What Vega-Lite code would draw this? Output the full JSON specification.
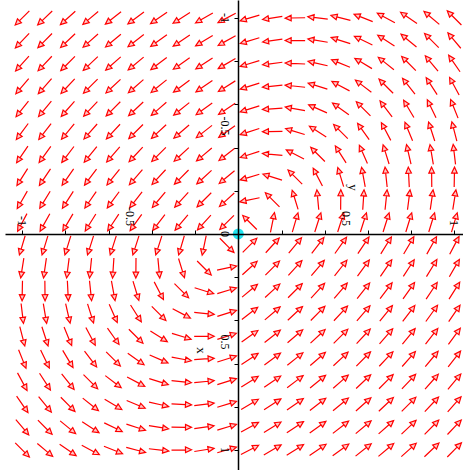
{
"$schema":"https://vega.github.io/schema/vega-lite/v6.json",
"width":458,"height":470,"autosize":"none",
"padding":{"left":5,"top":0,"right":0,"bottom":0},
"background":"white",
"config":{"view":{"stroke":null}},
"datasets":{"field":[
{"h":0.053,"v":0.053,"a":-45},{"h":0.158,"v":0.053,"a":-47.7},{"h":0.263,"v":0.053,"a":-50.2},{"h":0.368,"v":0.053,"a":-52.4},{"h":0.474,"v":0.053,"a":-54.5},{"h":0.579,"v":0.053,"a":-56.3},{"h":0.684,"v":0.053,"a":-58},{"h":0.789,"v":0.053,"a":-59.5},{"h":0.895,"v":0.053,"a":-60.9},{"h":1,"v":0.053,"a":-62.2},
{"h":0.053,"v":0.158,"a":-42.3},{"h":0.158,"v":0.158,"a":-45},{"h":0.263,"v":0.158,"a":-47.5},{"h":0.368,"v":0.158,"a":-49.8},{"h":0.474,"v":0.158,"a":-51.8},{"h":0.579,"v":0.158,"a":-53.7},{"h":0.684,"v":0.158,"a":-55.5},{"h":0.789,"v":0.158,"a":-57.1},{"h":0.895,"v":0.158,"a":-58.6},{"h":1,"v":0.158,"a":-59.9},
{"h":0.053,"v":0.263,"a":-39.8},{"h":0.158,"v":0.263,"a":-42.5},{"h":0.263,"v":0.263,"a":-45},{"h":0.368,"v":0.263,"a":-47.3},{"h":0.474,"v":0.263,"a":-49.4},{"h":0.579,"v":0.263,"a":-51.3},{"h":0.684,"v":0.263,"a":-53.1},{"h":0.789,"v":0.263,"a":-54.8},{"h":0.895,"v":0.263,"a":-56.3},{"h":1,"v":0.263,"a":-57.7},
{"h":0.053,"v":0.368,"a":-37.6},{"h":0.158,"v":0.368,"a":-40.2},{"h":0.263,"v":0.368,"a":-42.7},{"h":0.368,"v":0.368,"a":-45},{"h":0.474,"v":0.368,"a":-47.1},{"h":0.579,"v":0.368,"a":-49.1},{"h":0.684,"v":0.368,"a":-50.9},{"h":0.789,"v":0.368,"a":-52.6},{"h":0.895,"v":0.368,"a":-54.2},{"h":1,"v":0.368,"a":-55.6},
{"h":0.053,"v":0.474,"a":-35.5},{"h":0.158,"v":0.474,"a":-38.2},{"h":0.263,"v":0.474,"a":-40.6},{"h":0.368,"v":0.474,"a":-42.9},{"h":0.474,"v":0.474,"a":-45},{"h":0.579,"v":0.474,"a":-47},{"h":0.684,"v":0.474,"a":-48.8},{"h":0.789,"v":0.474,"a":-50.5},{"h":0.895,"v":0.474,"a":-52.1},{"h":1,"v":0.474,"a":-53.6},
{"h":0.053,"v":0.579,"a":-33.7},{"h":0.158,"v":0.579,"a":-36.3},{"h":0.263,"v":0.579,"a":-38.7},{"h":0.368,"v":0.579,"a":-40.9},{"h":0.474,"v":0.579,"a":-43},{"h":0.579,"v":0.579,"a":-45},{"h":0.684,"v":0.579,"a":-46.8},{"h":0.789,"v":0.579,"a":-48.6},{"h":0.895,"v":0.579,"a":-50.2},{"h":1,"v":0.579,"a":-51.7},
{"h":0.053,"v":0.684,"a":-32},{"h":0.158,"v":0.684,"a":-34.5},{"h":0.263,"v":0.684,"a":-36.9},{"h":0.368,"v":0.684,"a":-39.1},{"h":0.474,"v":0.684,"a":-41.2},{"h":0.579,"v":0.684,"a":-43.2},{"h":0.684,"v":0.684,"a":-45},{"h":0.789,"v":0.684,"a":-46.7},{"h":0.895,"v":0.684,"a":-48.4},{"h":1,"v":0.684,"a":-49.9},
{"h":0.053,"v":0.789,"a":-30.5},{"h":0.158,"v":0.789,"a":-32.9},{"h":0.263,"v":0.789,"a":-35.2},{"h":0.368,"v":0.789,"a":-37.4},{"h":0.474,"v":0.789,"a":-39.5},{"h":0.579,"v":0.789,"a":-41.4},{"h":0.684,"v":0.789,"a":-43.3},{"h":0.789,"v":0.789,"a":-45},{"h":0.895,"v":0.789,"a":-46.6},{"h":1,"v":0.789,"a":-48.2},
{"h":0.053,"v":0.895,"a":-29.1},{"h":0.158,"v":0.895,"a":-31.4},{"h":0.263,"v":0.895,"a":-33.7},{"h":0.368,"v":0.895,"a":-35.8},{"h":0.474,"v":0.895,"a":-37.9},{"h":0.579,"v":0.895,"a":-39.8},{"h":0.684,"v":0.895,"a":-41.6},{"h":0.789,"v":0.895,"a":-43.4},{"h":0.895,"v":0.895,"a":-45},{"h":1,"v":0.895,"a":-46.5},
{"h":0.053,"v":1,"a":-27.8},{"h":0.158,"v":1,"a":-30.1},{"h":0.263,"v":1,"a":-32.3},{"h":0.368,"v":1,"a":-34.4},{"h":0.474,"v":1,"a":-36.4},{"h":0.579,"v":1,"a":-38.3},{"h":0.684,"v":1,"a":-40.1},{"h":0.789,"v":1,"a":-41.8},{"h":0.895,"v":1,"a":-43.5},{"h":1,"v":1,"a":-45},

{"h":-0.053,"v":-0.053,"a":135},{"h":-0.158,"v":-0.053,"a":132.3},{"h":-0.263,"v":-0.053,"a":129.8},{"h":-0.368,"v":-0.053,"a":127.6},{"h":-0.474,"v":-0.053,"a":125.5},{"h":-0.579,"v":-0.053,"a":123.7},{"h":-0.684,"v":-0.053,"a":122},{"h":-0.789,"v":-0.053,"a":120.5},{"h":-0.895,"v":-0.053,"a":119.1},{"h":-1,"v":-0.053,"a":117.8},
{"h":-0.053,"v":-0.158,"a":137.7},{"h":-0.158,"v":-0.158,"a":135},{"h":-0.263,"v":-0.158,"a":132.5},{"h":-0.368,"v":-0.158,"a":130.2},{"h":-0.474,"v":-0.158,"a":128.2},{"h":-0.579,"v":-0.158,"a":126.3},{"h":-0.684,"v":-0.158,"a":124.5},{"h":-0.789,"v":-0.158,"a":122.9},{"h":-0.895,"v":-0.158,"a":121.4},{"h":-1,"v":-0.158,"a":120.1},
{"h":-0.053,"v":-0.263,"a":140.2},{"h":-0.158,"v":-0.263,"a":137.5},{"h":-0.263,"v":-0.263,"a":135},{"h":-0.368,"v":-0.263,"a":132.7},{"h":-0.474,"v":-0.263,"a":130.6},{"h":-0.579,"v":-0.263,"a":128.7},{"h":-0.684,"v":-0.263,"a":126.9},{"h":-0.789,"v":-0.263,"a":125.2},{"h":-0.895,"v":-0.263,"a":123.7},{"h":-1,"v":-0.263,"a":122.3},
{"h":-0.053,"v":-0.368,"a":142.4},{"h":-0.158,"v":-0.368,"a":139.8},{"h":-0.263,"v":-0.368,"a":137.3},{"h":-0.368,"v":-0.368,"a":135},{"h":-0.474,"v":-0.368,"a":132.9},{"h":-0.579,"v":-0.368,"a":130.9},{"h":-0.684,"v":-0.368,"a":129.1},{"h":-0.789,"v":-0.368,"a":127.4},{"h":-0.895,"v":-0.368,"a":125.8},{"h":-1,"v":-0.368,"a":124.4},
{"h":-0.053,"v":-0.474,"a":144.5},{"h":-0.158,"v":-0.474,"a":141.8},{"h":-0.263,"v":-0.474,"a":139.4},{"h":-0.368,"v":-0.474,"a":137.1},{"h":-0.474,"v":-0.474,"a":135},{"h":-0.579,"v":-0.474,"a":133},{"h":-0.684,"v":-0.474,"a":131.2},{"h":-0.789,"v":-0.474,"a":129.5},{"h":-0.895,"v":-0.474,"a":127.9},{"h":-1,"v":-0.474,"a":126.4},
{"h":-0.053,"v":-0.579,"a":146.3},{"h":-0.158,"v":-0.579,"a":143.7},{"h":-0.263,"v":-0.579,"a":141.3},{"h":-0.368,"v":-0.579,"a":139.1},{"h":-0.474,"v":-0.579,"a":137},{"h":-0.579,"v":-0.579,"a":135},{"h":-0.684,"v":-0.579,"a":133.2},{"h":-0.789,"v":-0.579,"a":131.4},{"h":-0.895,"v":-0.579,"a":129.8},{"h":-1,"v":-0.579,"a":128.3},
{"h":-0.053,"v":-0.684,"a":148},{"h":-0.158,"v":-0.684,"a":145.5},{"h":-0.263,"v":-0.684,"a":143.1},{"h":-0.368,"v":-0.684,"a":140.9},{"h":-0.474,"v":-0.684,"a":138.8},{"h":-0.579,"v":-0.684,"a":136.8},{"h":-0.684,"v":-0.684,"a":135},{"h":-0.789,"v":-0.684,"a":133.3},{"h":-0.895,"v":-0.684,"a":131.6},{"h":-1,"v":-0.684,"a":130.1},
{"h":-0.053,"v":-0.789,"a":149.5},{"h":-0.158,"v":-0.789,"a":147.1},{"h":-0.263,"v":-0.789,"a":144.8},{"h":-0.368,"v":-0.789,"a":142.6},{"h":-0.474,"v":-0.789,"a":140.5},{"h":-0.579,"v":-0.789,"a":138.6},{"h":-0.684,"v":-0.789,"a":136.7},{"h":-0.789,"v":-0.789,"a":135},{"h":-0.895,"v":-0.789,"a":133.4},{"h":-1,"v":-0.789,"a":131.8},
{"h":-0.053,"v":-0.895,"a":150.9},{"h":-0.158,"v":-0.895,"a":148.6},{"h":-0.263,"v":-0.895,"a":146.3},{"h":-0.368,"v":-0.895,"a":144.2},{"h":-0.474,"v":-0.895,"a":142.1},{"h":-0.579,"v":-0.895,"a":140.2},{"h":-0.684,"v":-0.895,"a":138.4},{"h":-0.789,"v":-0.895,"a":136.6},{"h":-0.895,"v":-0.895,"a":135},{"h":-1,"v":-0.895,"a":133.5},
{"h":-0.053,"v":-1,"a":152.2},{"h":-0.158,"v":-1,"a":149.9},{"h":-0.263,"v":-1,"a":147.7},{"h":-0.368,"v":-1,"a":145.6},{"h":-0.474,"v":-1,"a":143.6},{"h":-0.579,"v":-1,"a":141.7},{"h":-0.684,"v":-1,"a":139.9},{"h":-0.789,"v":-1,"a":138.2},{"h":-0.895,"v":-1,"a":136.5},{"h":-1,"v":-1,"a":135},

{"h":0.053,"v":-0.053,"a":-135},{"h":0.158,"v":-0.053,"a":-78.4},{"h":0.263,"v":-0.053,"a":-73.6},{"h":0.368,"v":-0.053,"a":-72.3},{"h":0.474,"v":-0.053,"a":-72.3},{"h":0.579,"v":-0.053,"a":-72.4},{"h":0.684,"v":-0.053,"a":-72.5},{"h":0.789,"v":-0.053,"a":-72.9},{"h":0.895,"v":-0.053,"a":-73.1},{"h":1,"v":-0.053,"a":-73.4},
{"h":0.053,"v":-0.158,"a":-191.6},{"h":0.158,"v":-0.158,"a":-135},{"h":0.263,"v":-0.158,"a":-107.1},{"h":0.368,"v":-0.158,"a":-95.4},{"h":0.474,"v":-0.158,"a":-89.5},{"h":0.579,"v":-0.158,"a":-86.2},{"h":0.684,"v":-0.158,"a":-84.1},{"h":0.789,"v":-0.158,"a":-82.7},{"h":0.895,"v":-0.158,"a":-81.8},{"h":1,"v":-0.158,"a":-81},
{"h":0.053,"v":-0.263,"a":-196.4},{"h":0.158,"v":-0.263,"a":-162.9},{"h":0.263,"v":-0.263,"a":-135},{"h":0.368,"v":-0.263,"a":-117.5},{"h":0.474,"v":-0.263,"a":-107},{"h":0.579,"v":-0.263,"a":-100.4},{"h":0.684,"v":-0.263,"a":-96},{"h":0.789,"v":-0.263,"a":-92.9},{"h":0.895,"v":-0.263,"a":-90.6},{"h":1,"v":-0.263,"a":-88.9},
{"h":0.053,"v":-0.368,"a":-197.7},{"h":0.158,"v":-0.368,"a":-174.6},{"h":0.263,"v":-0.368,"a":-152.5},{"h":0.368,"v":-0.368,"a":-135},{"h":0.474,"v":-0.368,"a":-122.5},{"h":0.579,"v":-0.368,"a":-113.7},{"h":0.684,"v":-0.368,"a":-107.4},{"h":0.789,"v":-0.368,"a":-102.9},{"h":0.895,"v":-0.368,"a":-99.5},{"h":1,"v":-0.368,"a":-96.8},
{"h":0.053,"v":-0.474,"a":-197.7},{"h":0.158,"v":-0.474,"a":-180.5},{"h":0.263,"v":-0.474,"a":-163},{"h":0.368,"v":-0.474,"a":-147.5},{"h":0.474,"v":-0.474,"a":-135},{"h":0.579,"v":-0.474,"a":-125.3},{"h":0.684,"v":-0.474,"a":-118},{"h":0.789,"v":-0.474,"a":-112.3},{"h":0.895,"v":-0.474,"a":-107.9},{"h":1,"v":-0.474,"a":-104.4},
{"h":0.053,"v":-0.579,"a":-197.6},{"h":0.158,"v":-0.579,"a":-183.8},{"h":0.263,"v":-0.579,"a":-169.6},{"h":0.368,"v":-0.579,"a":-156.3},{"h":0.474,"v":-0.579,"a":-144.7},{"h":0.579,"v":-0.579,"a":-135},{"h":0.684,"v":-0.579,"a":-127.2},{"h":0.789,"v":-0.579,"a":-120.9},{"h":0.895,"v":-0.579,"a":-115.8},{"h":1,"v":-0.579,"a":-111.7},
{"h":0.053,"v":-0.684,"a":-197.5},{"h":0.158,"v":-0.684,"a":-185.9},{"h":0.263,"v":-0.684,"a":-174},{"h":0.368,"v":-0.684,"a":-162.6},{"h":0.474,"v":-0.684,"a":-152},{"h":0.579,"v":-0.684,"a":-142.8},{"h":0.684,"v":-0.684,"a":-135},{"h":0.789,"v":-0.684,"a":-128.4},{"h":0.895,"v":-0.684,"a":-123},{"h":1,"v":-0.684,"a":-118.4},
{"h":0.053,"v":-0.789,"a":-197.1},{"h":0.158,"v":-0.789,"a":-187.3},{"h":0.263,"v":-0.789,"a":-177.1},{"h":0.368,"v":-0.789,"a":-167.1},{"h":0.474,"v":-0.789,"a":-157.7},{"h":0.579,"v":-0.789,"a":-149.1},{"h":0.684,"v":-0.789,"a":-141.6},{"h":0.789,"v":-0.789,"a":-135},{"h":0.895,"v":-0.789,"a":-129.4},{"h":1,"v":-0.789,"a":-124.6},
{"h":0.053,"v":-0.895,"a":-196.9},{"h":0.158,"v":-0.895,"a":-188.2},{"h":0.263,"v":-0.895,"a":-179.4},{"h":0.368,"v":-0.895,"a":-170.5},{"h":0.474,"v":-0.895,"a":-162.1},{"h":0.579,"v":-0.895,"a":-154.2},{"h":0.684,"v":-0.895,"a":-147},{"h":0.789,"v":-0.895,"a":-140.6},{"h":0.895,"v":-0.895,"a":-135},{"h":1,"v":-0.895,"a":-130.1},
{"h":0.053,"v":-1,"a":-196.6},{"h":0.158,"v":-1,"a":-189},{"h":0.263,"v":-1,"a":-181.1},{"h":0.368,"v":-1,"a":-173.2},{"h":0.474,"v":-1,"a":-165.6},{"h":0.579,"v":-1,"a":-158.3},{"h":0.684,"v":-1,"a":-151.6},{"h":0.789,"v":-1,"a":-145.4},{"h":0.895,"v":-1,"a":-139.9},{"h":1,"v":-1,"a":-135},

{"h":-0.053,"v":0.053,"a":45},{"h":-0.158,"v":0.053,"a":101.6},{"h":-0.263,"v":0.053,"a":106.4},{"h":-0.368,"v":0.053,"a":107.7},{"h":-0.474,"v":0.053,"a":107.7},{"h":-0.579,"v":0.053,"a":107.6},{"h":-0.684,"v":0.053,"a":107.5},{"h":-0.789,"v":0.053,"a":107.1},{"h":-0.895,"v":0.053,"a":106.9},{"h":-1,"v":0.053,"a":106.6},
{"h":-0.053,"v":0.158,"a":-11.6},{"h":-0.158,"v":0.158,"a":45},{"h":-0.263,"v":0.158,"a":72.9},{"h":-0.368,"v":0.158,"a":84.6},{"h":-0.474,"v":0.158,"a":90.5},{"h":-0.579,"v":0.158,"a":93.8},{"h":-0.684,"v":0.158,"a":95.9},{"h":-0.789,"v":0.158,"a":97.3},{"h":-0.895,"v":0.158,"a":98.2},{"h":-1,"v":0.158,"a":99},
{"h":-0.053,"v":0.263,"a":-16.4},{"h":-0.158,"v":0.263,"a":17.1},{"h":-0.263,"v":0.263,"a":45},{"h":-0.368,"v":0.263,"a":62.5},{"h":-0.474,"v":0.263,"a":73},{"h":-0.579,"v":0.263,"a":79.6},{"h":-0.684,"v":0.263,"a":84},{"h":-0.789,"v":0.263,"a":87.1},{"h":-0.895,"v":0.263,"a":89.4},{"h":-1,"v":0.263,"a":91.1},
{"h":-0.053,"v":0.368,"a":-17.7},{"h":-0.158,"v":0.368,"a":5.4},{"h":-0.263,"v":0.368,"a":27.5},{"h":-0.368,"v":0.368,"a":45},{"h":-0.474,"v":0.368,"a":57.5},{"h":-0.579,"v":0.368,"a":66.3},{"h":-0.684,"v":0.368,"a":72.6},{"h":-0.789,"v":0.368,"a":77.1},{"h":-0.895,"v":0.368,"a":80.5},{"h":-1,"v":0.368,"a":83.2},
{"h":-0.053,"v":0.474,"a":-17.7},{"h":-0.158,"v":0.474,"a":-0.5},{"h":-0.263,"v":0.474,"a":17},{"h":-0.368,"v":0.474,"a":32.5},{"h":-0.474,"v":0.474,"a":45},{"h":-0.579,"v":0.474,"a":54.7},{"h":-0.684,"v":0.474,"a":62},{"h":-0.789,"v":0.474,"a":67.7},{"h":-0.895,"v":0.474,"a":72.1},{"h":-1,"v":0.474,"a":75.6},
{"h":-0.053,"v":0.579,"a":-17.6},{"h":-0.158,"v":0.579,"a":-3.8},{"h":-0.263,"v":0.579,"a":10.4},{"h":-0.368,"v":0.579,"a":23.7},{"h":-0.474,"v":0.579,"a":35.3},{"h":-0.579,"v":0.579,"a":45},{"h":-0.684,"v":0.579,"a":52.8},{"h":-0.789,"v":0.579,"a":59.1},{"h":-0.895,"v":0.579,"a":64.2},{"h":-1,"v":0.579,"a":68.3},
{"h":-0.053,"v":0.684,"a":-17.5},{"h":-0.158,"v":0.684,"a":-5.9},{"h":-0.263,"v":0.684,"a":6},{"h":-0.368,"v":0.684,"a":17.4},{"h":-0.474,"v":0.684,"a":28},{"h":-0.579,"v":0.684,"a":37.2},{"h":-0.684,"v":0.684,"a":45},{"h":-0.789,"v":0.684,"a":51.6},{"h":-0.895,"v":0.684,"a":57},{"h":-1,"v":0.684,"a":61.6},
{"h":-0.053,"v":0.789,"a":-17.1},{"h":-0.158,"v":0.789,"a":-7.3},{"h":-0.263,"v":0.789,"a":2.9},{"h":-0.368,"v":0.789,"a":12.9},{"h":-0.474,"v":0.789,"a":22.3},{"h":-0.579,"v":0.789,"a":30.9},{"h":-0.684,"v":0.789,"a":38.4},{"h":-0.789,"v":0.789,"a":45},{"h":-0.895,"v":0.789,"a":50.6},{"h":-1,"v":0.789,"a":55.4},
{"h":-0.053,"v":0.895,"a":-16.9},{"h":-0.158,"v":0.895,"a":-8.2},{"h":-0.263,"v":0.895,"a":0.6},{"h":-0.368,"v":0.895,"a":9.5},{"h":-0.474,"v":0.895,"a":17.9},{"h":-0.579,"v":0.895,"a":25.8},{"h":-0.684,"v":0.895,"a":33},{"h":-0.789,"v":0.895,"a":39.4},{"h":-0.895,"v":0.895,"a":45},{"h":-1,"v":0.895,"a":49.9},
{"h":-0.053,"v":1,"a":-16.6},{"h":-0.158,"v":1,"a":-9},{"h":-0.263,"v":1,"a":-1.1},{"h":-0.368,"v":1,"a":6.8},{"h":-0.474,"v":1,"a":14.4},{"h":-0.579,"v":1,"a":21.7},{"h":-0.684,"v":1,"a":28.4},{"h":-0.789,"v":1,"a":34.6},{"h":-0.895,"v":1,"a":40.1},{"h":-1,"v":1,"a":45}
],
"origin":[{"h":0,"v":0}],
"hlabels":[{"h":-1,"v":0,"t":"-1"},{"h":-0.5,"v":0,"t":"-0.5"},{"h":0.5,"v":0,"t":"0.5"},{"h":1,"v":0,"t":"1"}],
"vlabels":[{"h":0,"v":-1,"t":"-1"},{"h":0,"v":-0.5,"t":"-0.5"},{"h":0,"v":0,"t":"0"},{"h":0,"v":0.5,"t":"0.5"},{"h":0,"v":1,"t":"1"}]},
"layer":[
{"data":{"name":"field"},
 "mark":{"type":"point","shape":"M -1 0 L 0.42 0 M 1 0 L 0.4 -0.28 L 0.4 0.28 Z","filled":true,"fill":"#ffc8c8","stroke":"#ff0000","strokeWidth":1.2,"opacity":1,"size":400},
 "encoding":{
  "x":{"field":"h","type":"quantitative","scale":{"domain":[-1.08,1.04],"nice":false,"zero":false},
   "axis":{"orient":"top","offset":-234,"zindex":1,"grid":false,"values":[-1,-0.9,-0.8,-0.7,-0.6,-0.5,-0.4,-0.3,-0.2,-0.1,0,0.1,0.2,0.3,0.4,0.5,0.6,0.7,0.8,0.9,1],
    "labels":false,
    "tickSize":4,"tickColor":"black","domainColor":"black","domainWidth":1.5,
    "title":"y","titleAngle":90,"titleX":347,"titleY":-47,"titleAlign":"center","titleBaseline":"middle","titleFont":"Liberation Serif","titleFontSize":13,"titleFontWeight":"normal","titleColor":"black"}},
  "y":{"field":"v","type":"quantitative","scale":{"domain":[-1.083,1.093],"nice":false,"zero":false,"reverse":true},
   "axis":{"orient":"left","offset":-233,"zindex":1,"grid":false,"values":[-1,-0.9,-0.8,-0.7,-0.6,-0.5,-0.4,-0.3,-0.2,-0.1,0,0.1,0.2,0.3,0.4,0.5,0.6,0.7,0.8,0.9,1],
    "labels":false,
    "tickSize":4,"tickColor":"black","domainColor":"black","domainWidth":1.5,
    "title":"x","titleAngle":90,"titleX":-38,"titleY":350,"titleAlign":"center","titleBaseline":"middle","titleFont":"Liberation Serif","titleFontSize":13,"titleFontWeight":"normal","titleColor":"black"}},
  "angle":{"field":"a","type":"quantitative","scale":null}
 }},
{"data":{"name":"origin"},
 "mark":{"type":"circle","size":120,"color":"#22e4f0","opacity":1},
 "encoding":{"x":{"field":"h","type":"quantitative"},"y":{"field":"v","type":"quantitative"}}},
{"data":{"name":"hlabels"},
 "mark":{"type":"text","angle":90,"align":"right","baseline":"middle","dx":-8,"font":"Liberation Serif","fontSize":12,"color":"black"},
 "encoding":{"x":{"field":"h","type":"quantitative"},"y":{"field":"v","type":"quantitative"},"text":{"field":"t"}}},
{"data":{"name":"vlabels"},
 "mark":{"type":"text","angle":90,"align":"center","baseline":"top","dy":8,"font":"Liberation Serif","fontSize":12,"color":"black"},
 "encoding":{"x":{"field":"h","type":"quantitative"},"y":{"field":"v","type":"quantitative"},"text":{"field":"t"}}}
]
}
